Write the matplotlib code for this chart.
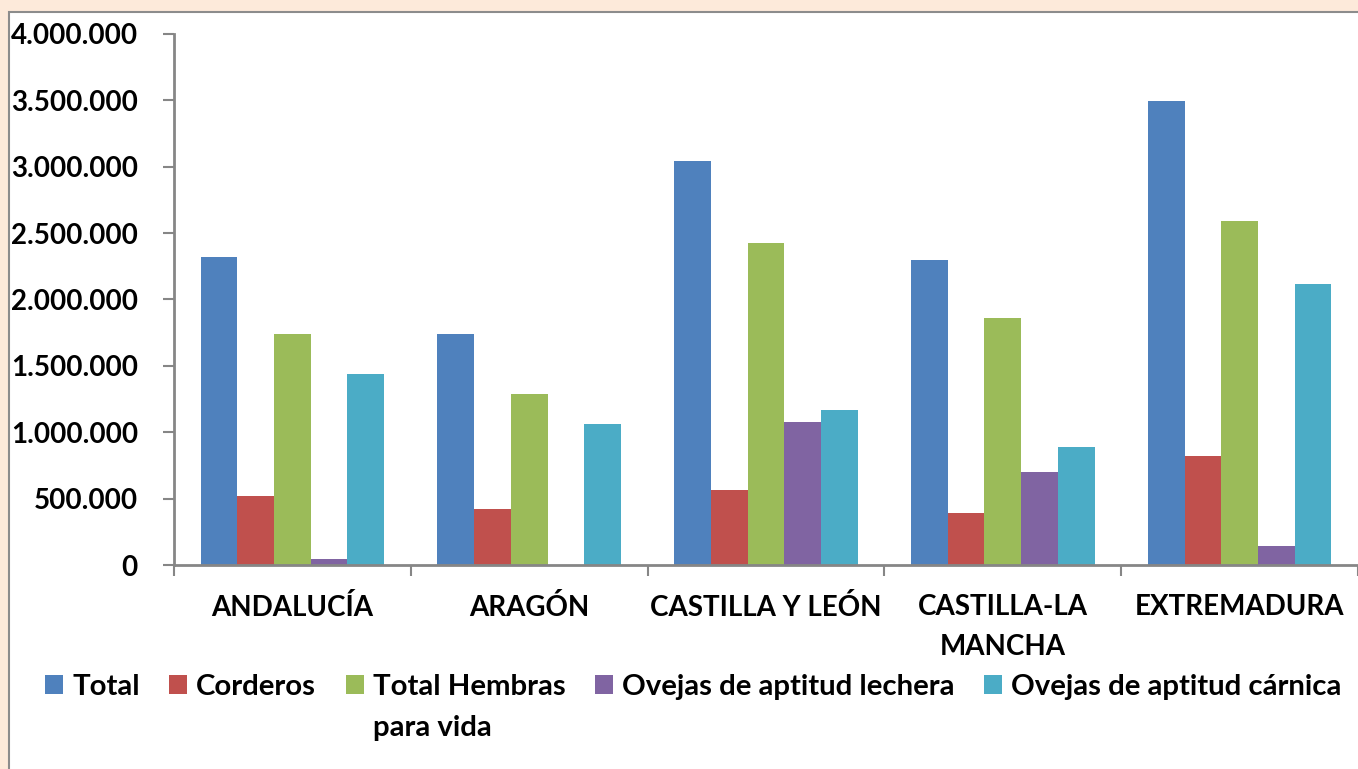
import matplotlib
matplotlib.use('Agg')
import matplotlib.pyplot as plt
from matplotlib.patches import Rectangle
from matplotlib.ticker import FuncFormatter, FixedLocator
import numpy as np

plt.rcParams['font.family'] = ['Lato', 'DejaVu Sans']
plt.rcParams['font.weight'] = 'bold'

regiones = ['ANDALUCÍA', 'ARAGÓN', 'CASTILLA Y LEÓN', 'CASTILLA-LA\nMANCHA', 'EXTREMADURA']
series = ['Total', 'Corderos', 'Total Hembras', 'Ovejas de aptitud lechera', 'Ovejas de aptitud cárnica']
total = [2322000, 1738000, 3046000, 2298000, 3498000]
corderos = [522000, 420000, 565000, 389000, 821000]
hembras = [1738000, 1288000, 2428000, 1861000, 2591000]
lechera = [43000, 0, 1077000, 703000, 146000]
carnica = [1436000, 1062000, 1168000, 886000, 2117000]
colores = ['#4F81BD', '#C0504D', '#9BBB59', '#8064A2', '#4BACC6']

W, H = 1358, 769
fig = plt.figure(figsize=(W / 100, H / 100), dpi=100, facecolor='#FDEADA')

# white chart area with grey border
fig.patches.append(Rectangle((9 / W, -0.05), 1.1, 1 - 12 / H + 0.05, transform=fig.transFigure,
                             facecolor='white', edgecolor='#8C8C8C', linewidth=1.5, zorder=-5))

ax = fig.add_axes([174 / W, 1 - 565 / H, 1 - 174 / W, (565 - 34) / H])
ax.set_facecolor('none')

x = np.arange(len(regiones))
datos = [total, corderos, hembras, lechera, carnica]
width = 0.155
for i in range(len(series)):
    ax.bar(x - 2 * width + i * width, datos[i], width=width, color=colores[i], label=series[i],
           edgecolor='none')

ax.set_xlim(-0.5, 4.5)
ax.set_ylim(0, 4000000)
ax.set_yticks(np.arange(0, 4000001, 500000))
ax.yaxis.set_major_formatter(FuncFormatter(lambda v, p: f'{int(v):,}'.replace(',', '.')))

ax.set_xticks(x)
ax.set_xticklabels(regiones, fontsize=20, fontweight='bold', linespacing=1.65)
ax.xaxis.set_minor_locator(FixedLocator(np.arange(-0.5, 5, 1)))
ax.tick_params(axis='x', which='major', length=0, pad=21)
ax.tick_params(axis='x', which='minor', length=8, width=1.5, color='#868686', direction='out')
ax.tick_params(axis='y', length=8, width=1.5, color='#868686', direction='out', pad=18, labelsize=20)
for lab in ax.get_yticklabels():
    lab.set_fontweight('bold')

for s in ['top', 'right']:
    ax.spines[s].set_visible(False)
for s in ['left', 'bottom']:
    ax.spines[s].set_color('#868686')
    ax.spines[s].set_linewidth(2)

leg = fig.legend(loc='upper left', bbox_to_anchor=(45 / W, 1 - 674 / H), ncol=5, frameon=False,
                 prop={'weight': 'bold', 'size': 21.2}, handlelength=0.62, handleheight=0.62,
                 handletextpad=0.3, columnspacing=1.0, borderpad=0, borderaxespad=0)

fig.canvas.draw()
bb = leg.get_texts()[2].get_window_extent()
fig.text(bb.x0 / W, (bb.y0 - 41) / H, 'para vida', fontsize=21.2, fontweight='bold', ha='left', va='bottom')

fig.savefig('out.png', dpi=100, facecolor=fig.get_facecolor())
